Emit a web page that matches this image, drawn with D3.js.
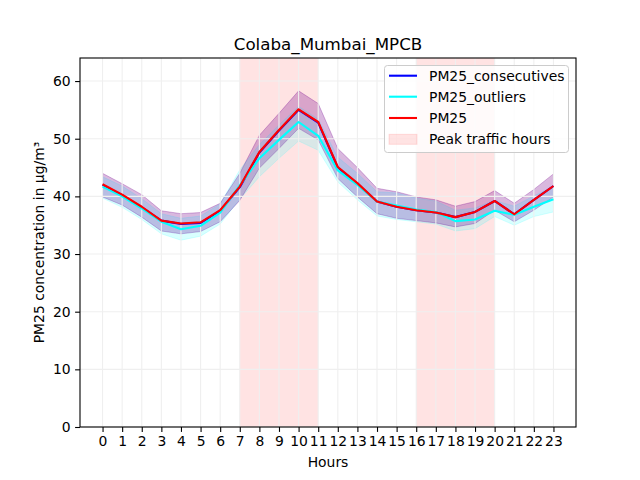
<!DOCTYPE html>
<html><head><meta charset="utf-8">
<script src="https://cdn.jsdelivr.net/npm/d3@7"></script>
<style>body{margin:0;background:#fff}svg{display:block}text{font-family:"DejaVu Sans",sans-serif}</style>
</head><body>
<script>
const hours = [0,1,2,3,4,5,6,7,8,9,10,11,12,13,14,15,16,17,18,19,20,21,22,23];
const yTicks = [0,10,20,30,40,50,60];
const peakSpans = [[7,11],[16,20]];
const consecutives = [42.0,40.2,38.1,35.8,35.2,35.4,37.5,41.6,47.6,51.4,55.0,52.8,45.0,42.2,39.1,38.2,37.6,37.2,36.4,37.3,39.2,36.9,39.4,41.8];
const consecutivesUpper = [44.0,42.2,40.3,37.5,37.0,37.2,38.8,44.0,50.6,54.4,58.3,56.1,48.3,45.0,41.4,40.8,39.9,39.4,38.3,39.1,41.0,38.8,41.2,43.9];
const consecutivesLower = [39.9,38.5,36.4,34.0,33.5,33.9,35.6,39.3,44.9,48.3,51.8,49.8,43.1,39.9,37.0,36.2,35.8,35.4,34.7,35.3,37.6,35.6,37.6,39.9];
const outliers = [41.7,40.0,37.9,35.6,34.3,34.9,37.2,41.9,46.6,49.8,52.9,50.5,44.5,42.0,39.1,38.4,37.7,37.3,35.7,36.0,37.5,36.8,38.2,39.5];
const outliersUpper = [43.4,41.8,39.6,37.0,36.2,36.6,38.7,44.6,49.0,52.4,55.6,53.4,46.8,44.0,40.8,40.6,39.7,39.2,37.6,38.0,39.3,38.3,40.1,41.6];
const outliersLower = [39.7,38.1,36.0,33.5,32.4,33.1,35.2,39.5,43.4,46.6,49.6,48.0,42.5,39.4,36.6,36.0,35.6,35.2,34.0,34.4,36.5,35.0,36.5,37.3];
const pm25 = [42.1,40.3,38.2,35.8,35.3,35.5,37.6,41.7,47.7,51.5,55.1,52.9,45.1,42.3,39.1,38.2,37.6,37.2,36.4,37.3,39.2,36.9,39.4,41.8];
const pm25Upper = [44.0,42.2,40.3,37.5,37.0,37.2,38.8,44.0,50.6,54.4,58.3,56.1,48.3,45.0,41.4,40.8,39.9,39.4,38.3,39.1,41.0,38.8,41.2,43.9];
const pm25Lower = [39.9,38.5,36.4,34.0,33.5,33.9,35.6,39.3,44.9,48.3,51.8,49.8,43.1,39.9,37.0,36.2,35.8,35.4,34.7,35.3,37.6,35.6,37.6,39.9];
const legendLabels = ["PM25_consecutives","PM25_outliers","PM25","Peak traffic hours"];

const W=640,H=480, L=80, R=576, T=58, B=427;
const svg=d3.select("body").append("svg").attr("width",W).attr("height",H);
const x=d3.scaleLinear().domain([-1.15,24.15]).range([L,R]);
const y=d3.scaleLinear().domain([0,64]).range([B,T]);

// peak spans
svg.selectAll("rect.peak").data(peakSpans).enter().append("rect")
  .attr("x",d=>x(d[0])).attr("width",d=>x(d[1])-x(d[0]))
  .attr("y",T).attr("height",B-T).attr("fill","rgba(255,0,0,0.11)");

const series=[
  {v:consecutives,u:consecutivesUpper,l:consecutivesLower,c:"0,0,255",lc:"#0000ff"},
  {v:outliers,u:outliersUpper,l:outliersLower,c:"0,255,255",lc:"#00ffff"},
  {v:pm25,u:pm25Upper,l:pm25Lower,c:"255,0,0",lc:"#ff0000"}
];
const area=d3.area().x((d,i)=>x(hours[i])).y0(d=>y(d[0])).y1(d=>y(d[1]));
[series[2],series[1],series[0]].forEach(s=>{
  const pts=hours.map((h,i)=>[s.l[i],s.u[i]]);
  svg.append("path").attr("d",area(pts))
    .attr("fill",`rgba(${s.c},0.15)`).attr("stroke",`rgba(${s.c},0.15)`).attr("stroke-width",1);
});

// grid
const gridC="#efefef";
hours.forEach(h=>svg.append("line").attr("x1",x(h)).attr("x2",x(h)).attr("y1",T).attr("y2",B).attr("stroke",gridC).attr("stroke-width",1.1));
yTicks.forEach(t=>svg.append("line").attr("x1",L).attr("x2",R).attr("y1",y(t)).attr("y2",y(t)).attr("stroke",gridC).attr("stroke-width",1.1));

const line=d3.line().x((d,i)=>x(hours[i])).y(d=>y(d));
series.forEach(s=>{
  svg.append("path").attr("d",line(s.v)).attr("fill","none").attr("stroke",s.lc).attr("stroke-width",2.1).attr("stroke-linejoin","round");
});

// axes
const xAxis=svg.append("g").attr("transform",`translate(0,${B})`)
  .call(d3.axisBottom(x).tickValues(hours).tickSize(4.9).tickPadding(4.5));
const yAxis=svg.append("g").attr("transform",`translate(${L},0)`)
  .call(d3.axisLeft(y).tickValues(yTicks).tickSize(4.9).tickPadding(4.5));
[xAxis,yAxis].forEach(a=>{
  a.select(".domain").remove();
  a.selectAll("line").attr("stroke","#000").attr("stroke-width",1.1);
  a.selectAll("text").attr("font-size",13.9).attr("fill","#000").attr("font-family","DejaVu Sans");
});
svg.append("rect").attr("x",L).attr("y",T).attr("width",R-L).attr("height",B-T)
  .attr("fill","none").attr("stroke","#000").attr("stroke-width",1.1);

svg.append("text").attr("x",(L+R)/2).attr("y",50).attr("text-anchor","middle").attr("font-size",16.7).text("Colaba_Mumbai_MPCB");
svg.append("text").attr("x",(L+R)/2).attr("y",467).attr("text-anchor","middle").attr("font-size",13.9).text("Hours");
svg.append("text").attr("transform",`translate(44,${(T+B)/2}) rotate(-90)`).attr("text-anchor","middle").attr("font-size",13.9).text("PM25 concentration in μg/m³");

// legend
const lg=svg.append("g");
lg.append("rect").attr("x",384.5).attr("y",65.5).attr("width",184).attr("height",87).attr("rx",3)
  .attr("fill","rgba(255,255,255,0.8)").attr("stroke","#cccccc").attr("stroke-width",1);
const rowsY=[75.7,96.7,118,139.3];
const lcols=["#0000ff","#00ffff","#ff0000"];
legendLabels.forEach((lab,i)=>{
  if(i<3){
    lg.append("line").attr("x1",389).attr("x2",417).attr("y1",rowsY[i]).attr("y2",rowsY[i]).attr("stroke",lcols[i]).attr("stroke-width",2.1);
  } else {
    lg.append("rect").attr("x",389).attr("y",rowsY[i]-5).attr("width",28).attr("height",10)
      .attr("fill","rgba(255,0,0,0.11)").attr("stroke","rgba(255,0,0,0.11)");
  }
  lg.append("text").attr("x",429).attr("y",rowsY[i]+5).attr("font-size",13.9).text(lab);
});
</script>
</body></html>
